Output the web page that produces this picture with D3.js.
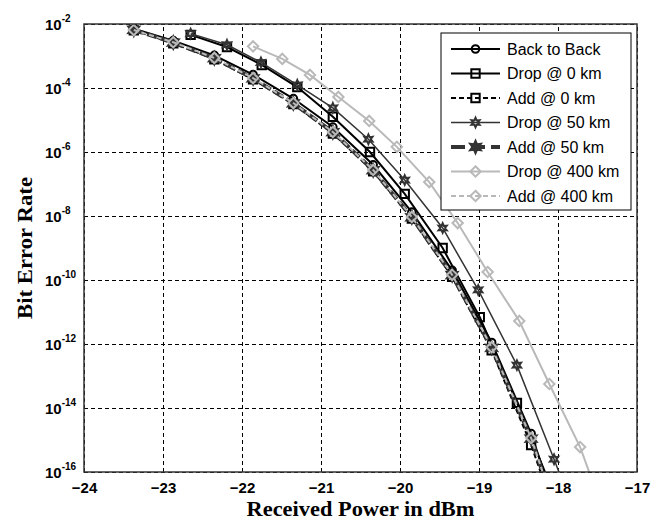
<!DOCTYPE html>
<html>
<head>
<meta charset="utf-8">
<script src="https://cdn.jsdelivr.net/npm/d3@7"></script>
<style>
  body { margin: 0; background: #fff; }
  svg { display: block; }
</style>
</head>
<body>
<svg id="chart"></svg>
<script>
// Data (received power in dBm, BER)
const xTicks = [-24, -23, -22, -21, -20, -19, -18, -17];
const yTickExps = [-2, -4, -6, -8, -10, -12, -14, -16];

const seriesNames = ["Back to Back", "Drop @ 0 km", "Add @ 0 km", "Drop @ 50 km",
                     "Add @ 50 km", "Drop @ 400 km", "Add @ 400 km"];

// the four "add" curves and back to back share the same powers
const clusterPower = [-23.37, -22.87, -22.35, -21.86, -21.35, -20.85, -20.34, -19.85, -19.34, -18.84, -18.34, -17.85];
const backToBackBer = [7.08e-3, 3.02e-3, 1.05e-3, 2.63e-4, 4.68e-5, 6.03e-6, 3.98e-7, 1.32e-8, 2.0e-10, 1.12e-12, 1.58e-15, 3.98e-19];
const add0Ber = [6.31e-3, 2.51e-3, 7.94e-4, 1.86e-4, 3.16e-5, 3.8e-6, 2.51e-7, 8.3e-9, 1.26e-10, 6.31e-13, 6.92e-16, 2.51e-19];
const add50Ber = [6.61e-3, 2.63e-3, 8.51e-4, 2.0e-4, 3.31e-5, 4.17e-6, 2.69e-7, 9.12e-9, 1.41e-10, 7.59e-13, 1.1e-15, 3.16e-19];
const add400Ber = [6.46e-3, 2.69e-3, 8.71e-4, 2.04e-4, 3.39e-5, 4.22e-6, 2.75e-7, 9.33e-9, 1.45e-10, 7.94e-13, 1.15e-15, 3.16e-19];

const drop0Power = [-22.65, -22.19, -21.75, -21.30, -20.85, -20.38, -19.94, -19.46, -18.99, -18.52, -18.05];
const drop0Ber = [4.57e-3, 1.91e-3, 5.25e-4, 1.07e-4, 1.26e-5, 1.0e-6, 4.9e-8, 1.0e-9, 6.92e-12, 1.45e-14, 2.0e-17];

const drop50Power = [-22.65, -22.19, -21.76, -21.30, -20.85, -20.40, -19.94, -19.46, -19.01, -18.52, -18.05, -17.6];
const drop50Ber = [5.01e-3, 2.24e-3, 6.31e-4, 1.26e-4, 2.4e-5, 2.51e-6, 1.33e-7, 4.22e-9, 4.9e-11, 2.19e-13, 2.51e-16, 3.16e-19];

const drop400Power = [-21.86, -21.49, -21.14, -20.78, -20.39, -20.04, -19.63, -19.27, -18.89, -18.49, -18.11, -17.72, -17.35];
const drop400Ber = [2.0e-3, 8.13e-4, 2.57e-4, 5.25e-5, 9.33e-6, 1.45e-6, 1.15e-7, 6.03e-9, 1.78e-10, 5.25e-12, 5.62e-14, 6.03e-16, 1.78e-18];

// Set up SVG dimensions
const svgWidth = 661;
const svgHeight = 522;
const plot = { left: 84, right: 637, top: 24, bottom: 472 };

const svg = d3.select("#chart")
    .attr("width", svgWidth)
    .attr("height", svgHeight);

// Scales
const xScale = d3.scaleLinear().domain([-24, -17]).range([plot.left, plot.right]);
const yScale = d3.scaleLog().domain([1e-16, 1e-2]).range([plot.bottom, plot.top]);

// six point star (MATLAB hexagram) and square diamond
const hexagram = {
    draw(ctx, size) {
        const r = Math.sqrt(size) * 0.75, ri = r * 0.5;
        for (let i = 0; i < 12; i++) {
            const a = -Math.PI / 2 + i * Math.PI / 6;
            const rr = i % 2 ? ri : r;
            if (i === 0) ctx.moveTo(rr * Math.cos(a), rr * Math.sin(a));
            else ctx.lineTo(rr * Math.cos(a), rr * Math.sin(a));
        }
        ctx.closePath();
    }
};
const diamond = {
    draw(ctx, size) {
        const r = Math.sqrt(size) * 0.6;
        ctx.moveTo(0, -r); ctx.lineTo(r, 0); ctx.lineTo(0, r); ctx.lineTo(-r, 0);
        ctx.closePath();
    }
};

const lightGray = "#b9b9b9";
const darkGray = "#333";

const series = [
    { name: seriesNames[0], px: clusterPower, ber: backToBackBer, color: "#000", width: 2, dash: null, legendDash: null,
      sym: d3.symbolCircle, size: 45, fill: "none" },
    { name: seriesNames[1], px: drop0Power, ber: drop0Ber, color: "#000", width: 2, dash: null, legendDash: null,
      sym: d3.symbolSquare, size: 70, fill: "none" },
    { name: seriesNames[2], px: clusterPower, ber: add0Ber, color: "#000", width: 2, dash: "5,3", legendDash: "5,3",
      sym: d3.symbolSquare, size: 70, fill: "none" },
    { name: seriesNames[3], px: drop50Power, ber: drop50Ber, color: darkGray, width: 1.5, dash: null, legendDash: null,
      sym: hexagram, size: 40, fill: "none" },
    { name: seriesNames[4], px: clusterPower, ber: add50Ber, color: darkGray, width: 4, dash: "10,4", legendDash: "14,6",
      sym: hexagram, size: 70, fill: darkGray },
    { name: seriesNames[5], px: drop400Power, ber: drop400Ber, color: lightGray, width: 2, dash: null, legendDash: null,
      sym: diamond, size: 75, fill: "none" },
    { name: seriesNames[6], px: clusterPower, ber: add400Ber, color: lightGray, width: 2, dash: "5,3", legendDash: "5,3",
      sym: diamond, size: 75, fill: "none" }
];

// Clip to plot area
svg.append("clipPath").attr("id", "plotClip")
    .append("rect")
    .attr("x", plot.left).attr("y", plot.top)
    .attr("width", plot.right - plot.left).attr("height", plot.bottom - plot.top);

// Grid lines (dashed)
svg.append("g")
    .attr("transform", `translate(0, ${plot.bottom})`)
    .call(d3.axisBottom(xScale).tickValues(xTicks).tickSize(-(plot.bottom - plot.top)).tickFormat(""))
    .call(g => g.select(".domain").remove())
    .selectAll("line")
    .attr("stroke", "#000")
    .attr("stroke-dasharray", "4,3");

const yTickVals = yTickExps.map(e => Math.pow(10, e));
svg.append("g")
    .attr("transform", `translate(${plot.left}, 0)`)
    .call(d3.axisLeft(yScale).tickValues(yTickVals).tickSize(-(plot.right - plot.left)).tickFormat(""))
    .call(g => g.select(".domain").remove())
    .selectAll("line")
    .attr("stroke", "#000")
    .attr("stroke-dasharray", "4,3");

// Curves
const lineGen = d3.line()
    .x(d => xScale(d[0]))
    .y(d => yScale(d[1]));

const curves = svg.append("g").attr("clip-path", "url(#plotClip)");

series.forEach(s => {
    const pts = s.px.map((p, i) => [p, s.ber[i]]);
    curves.append("path")
        .datum(pts)
        .attr("fill", "none")
        .attr("stroke", s.color)
        .attr("stroke-width", s.width)
        .attr("stroke-dasharray", s.dash)
        .attr("d", lineGen);
    curves.selectAll(null)
        .data(pts.filter(d => d[1] >= 1e-16))
        .enter()
        .append("path")
        .attr("transform", d => `translate(${xScale(d[0])}, ${yScale(d[1])})`)
        .attr("d", d3.symbol().type(s.sym).size(s.size))
        .attr("fill", s.fill)
        .attr("stroke", s.color)
        .attr("stroke-width", 2);
});

// Plot frame
svg.append("rect")
    .attr("x", plot.left).attr("y", plot.top)
    .attr("width", plot.right - plot.left).attr("height", plot.bottom - plot.top)
    .attr("fill", "none")
    .attr("stroke", "#333")
    .attr("stroke-width", 1.5);

// X tick labels
svg.append("g")
    .attr("transform", `translate(0, ${plot.bottom})`)
    .call(d3.axisBottom(xScale).tickValues(xTicks).tickSize(0).tickPadding(10).tickFormat(d3.format("d")))
    .call(g => g.select(".domain").remove())
    .selectAll("text")
    .attr("fill", "#000")
    .attr("font-family", "'Liberation Sans', Arial, sans-serif")
    .attr("font-weight", "bold")
    .attr("font-size", "15px")
    .attr("dy", "0.71em");

// Y tick labels 10^n
svg.append("g")
    .selectAll("text")
    .data(yTickExps)
    .enter()
    .append("text")
    .attr("x", 45)
    .attr("y", d => yScale(Math.pow(10, d)) + 6)
    .attr("font-family", "'Liberation Sans', Arial, sans-serif")
    .attr("font-weight", "bold")
    .attr("font-size", "15px")
    .attr("fill", "#000")
    .each(function (d) {
        const t = d3.select(this);
        t.append("tspan").text("10");
        t.append("tspan").attr("dy", -8).attr("font-size", "10px").text(d);
    });

// Axis titles
svg.append("text")
    .attr("x", (plot.left + plot.right) / 2)
    .attr("y", 516)
    .attr("text-anchor", "middle")
    .attr("font-family", "'Liberation Serif', 'Times New Roman', serif")
    .attr("font-weight", "bold")
    .attr("font-size", "20px")
    .attr("textLength", 228)
    .attr("lengthAdjust", "spacingAndGlyphs")
    .text("Received Power in dBm");

svg.append("text")
    .attr("transform", `translate(32, ${(plot.top + plot.bottom) / 2}) rotate(-90)`)
    .attr("text-anchor", "middle")
    .attr("font-family", "'Liberation Serif', 'Times New Roman', serif")
    .attr("font-weight", "bold")
    .attr("font-size", "20px")
    .attr("textLength", 142)
    .attr("lengthAdjust", "spacingAndGlyphs")
    .text("Bit Error Rate");

// Legend
const legend = svg.append("g");
legend.append("rect")
    .attr("x", 441).attr("y", 33)
    .attr("width", 190).attr("height", 177)
    .attr("fill", "#fff")
    .attr("stroke", "#000")
    .attr("stroke-width", 1);

series.forEach((s, i) => {
    const y = 49 + i * 24.5;
    legend.append("line")
        .attr("x1", 451).attr("x2", 500)
        .attr("y1", y).attr("y2", y)
        .attr("stroke", s.color)
        .attr("stroke-width", s.width)
        .attr("stroke-dasharray", s.legendDash);
    legend.append("path")
        .attr("transform", `translate(475.5, ${y})`)
        .attr("d", d3.symbol().type(s.sym).size(s.size))
        .attr("fill", s.fill)
        .attr("stroke", s.color)
        .attr("stroke-width", 2);
    legend.append("text")
        .attr("x", 507)
        .attr("y", y + 5.5)
        .attr("font-family", "'Liberation Sans', Arial, sans-serif")
        .attr("font-size", "16px")
        .attr("fill", "#000")
        .text(s.name);
});
</script>
</body>
</html>
